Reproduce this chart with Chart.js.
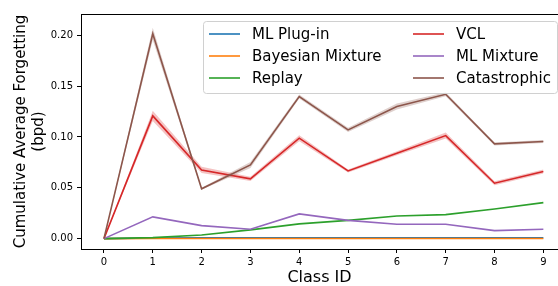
<!DOCTYPE html>
<html>
<head>
<meta charset="utf-8">
<script src="https://cdn.jsdelivr.net/npm/chart.js@4"></script>
<style>
  body { margin: 0; overflow: hidden; background: #fff; }
</style>
</head>
<body>
<canvas id="myChart" width="558" height="286"></canvas>
<script>
const classIds = [0, 1, 2, 3, 4, 5, 6, 7, 8, 9];
const yTicks = [0, 0.05, 0.10, 0.15, 0.20];

const mlPlugin = [0, 0.0006, 0.0007, 0.0007, 0.0008, 0.0008, 0.0008, 0.0009, 0.0009, 0.0009];
const bayesMixture = [0, 0.0001, 0.0001, 0.0001, 0.0001, 0.0001, 0.0001, 0.0001, 0.0001, 0.0001];
const replay = [0, 0.001, 0.0036, 0.0086, 0.0145, 0.018, 0.0223, 0.0236, 0.0292, 0.0354];
const vcl = [0, 0.1208, 0.0676, 0.0588, 0.0988, 0.0666, 0.084, 0.1014, 0.0545, 0.066];
const vclStd = [0, 0.005, 0.003, 0.002, 0.003, 0.0015, 0.002, 0.003, 0.002, 0.002];
const mlMixture = [0, 0.0214, 0.0128, 0.0092, 0.0243, 0.018, 0.0142, 0.0142, 0.0079, 0.0093];
const catastrophic = [0, 0.2015, 0.049, 0.0725, 0.1398, 0.107, 0.130, 0.142, 0.0932, 0.0955];
const catStd = [0, 0.006, 0.001, 0.003, 0.002, 0.002, 0.003, 0.002, 0.0015, 0.0015];

const FONT = 'DejaVu Sans';

function pts(arr) {
  return arr.map((v, i) => ({ x: classIds[i], y: v }));
}
function band(arr, sd, sign) {
  return arr.map((v, i) => ({ x: classIds[i], y: v + sign * sd[i] }));
}
function line(label, data, color, order) {
  return { label: label, data: pts(data), borderColor: color, backgroundColor: color,
    borderWidth: 1.6, pointRadius: 0, tension: 0, fill: false, order: order };
}
function bandPair(data, sd, fillColor, order) {
  return [
    { label: '', data: band(data, sd, -1), borderWidth: 0, pointRadius: 0, fill: false, order: order },
    { label: '', data: band(data, sd, 1), borderWidth: 0, pointRadius: 0, fill: '-1', backgroundColor: fillColor, order: order }
  ];
}

const series = [
  line('ML Plug-in', mlPlugin, '#1f77b4', 12),
  line('Bayesian Mixture', bayesMixture, '#ff7f0e', 11),
  line('Replay', replay, '#2ca02c', 10),
  ...bandPair(vcl, vclStd, 'rgba(214,39,40,0.28)', 9),
  line('VCL', vcl, '#d62728', 8),
  line('ML Mixture', mlMixture, '#9467bd', 7),
  ...bandPair(catastrophic, catStd, 'rgba(140,86,75,0.28)', 6),
  line('Catastrophic', catastrophic, '#8c564b', 5)
];

const legendCols = [['ML Plug-in', 'Bayesian Mixture', 'Replay'], ['VCL', 'ML Mixture', 'Catastrophic']];

const frameAndLegend = {
  id: 'frameAndLegend',
  afterDatasetsDraw(chart) {
    const c = chart.ctx;
    const a = chart.chartArea;
    c.save();
    c.strokeStyle = '#000';
    c.lineWidth = 1;
    c.beginPath();
    c.moveTo(a.left, a.top + 0.5);
    c.lineTo(a.right, a.top + 0.5);
    c.stroke();

    // legend box
    const bx = 203.5, by = 21.5, bw = 354, bh = 72, r = 3;
    c.beginPath();
    c.moveTo(bx + r, by);
    c.arcTo(bx + bw, by, bx + bw, by + bh, r);
    c.arcTo(bx + bw, by + bh, bx, by + bh, r);
    c.arcTo(bx, by + bh, bx, by, r);
    c.arcTo(bx, by, bx + bw, by, r);
    c.closePath();
    c.fillStyle = 'rgba(255,255,255,0.8)';
    c.fill();
    c.strokeStyle = '#d0d0d0';
    c.stroke();

    const colX = [209, 413];
    const rowY = [34, 56, 78];
    c.font = '15px ' + FONT;
    c.textBaseline = 'middle';
    legendCols.forEach((col, ci) => {
      col.forEach((name, ri) => {
        const ds = chart.data.datasets.find(d => d.label === name);
        c.strokeStyle = ds.borderColor;
        c.lineWidth = 1.6;
        c.beginPath();
        c.moveTo(colX[ci], rowY[ri]);
        c.lineTo(colX[ci] + 31, rowY[ri]);
        c.stroke();
        c.fillStyle = '#000';
        c.fillText(name, colX[ci] + 43, rowY[ri] + 1);
      });
    });
    c.restore();
  }
};

const ctx = document.getElementById('myChart').getContext('2d');
const myChart = new Chart(ctx, {
  type: 'line',
  data: { datasets: series },
  options: {
    responsive: false,
    animation: false,
    layout: { padding: { top: 14, right: 0, left: 0, bottom: 0 } },
    plugins: { legend: { display: false }, tooltip: { enabled: false } },
    scales: {
      x: {
        type: 'linear',
        min: -0.47,
        max: 9.3,
        afterBuildTicks: (s) => { s.ticks = classIds.map(v => ({ value: v })); },
        afterFit: (s) => { s.height = 37; },
        grid: { drawOnChartArea: false, drawTicks: true, tickLength: 4, color: '#000' },
        border: { display: true, color: '#000', width: 1 },
        ticks: { color: '#000', font: { family: FONT, size: 10 }, padding: 3, maxRotation: 0 },
        title: { display: true, text: 'Class ID', color: '#000', font: { family: FONT, size: 16, lineHeight: 1.0 }, padding: { top: 0, bottom: 0 } }
      },
      y: {
        min: -0.0102,
        max: 0.221,
        afterBuildTicks: (s) => { s.ticks = yTicks.map(v => ({ value: v })); },
        afterFit: (s) => { s.width = 81; },
        grid: { drawOnChartArea: false, drawTicks: true, tickLength: 4, color: '#000' },
        border: { display: true, color: '#000', width: 1 },
        ticks: { color: '#000', font: { family: FONT, size: 10 }, padding: 4, callback: (v) => v.toFixed(2) },
        title: { display: true, text: ['Cumulative Average Forgetting', '(bpd)'], color: '#000', font: { family: FONT, size: 15, lineHeight: 1.2 }, padding: { top: 12, bottom: 0 } }
      }
    }
  },
  plugins: [frameAndLegend]
});
</script>
</body>
</html>
